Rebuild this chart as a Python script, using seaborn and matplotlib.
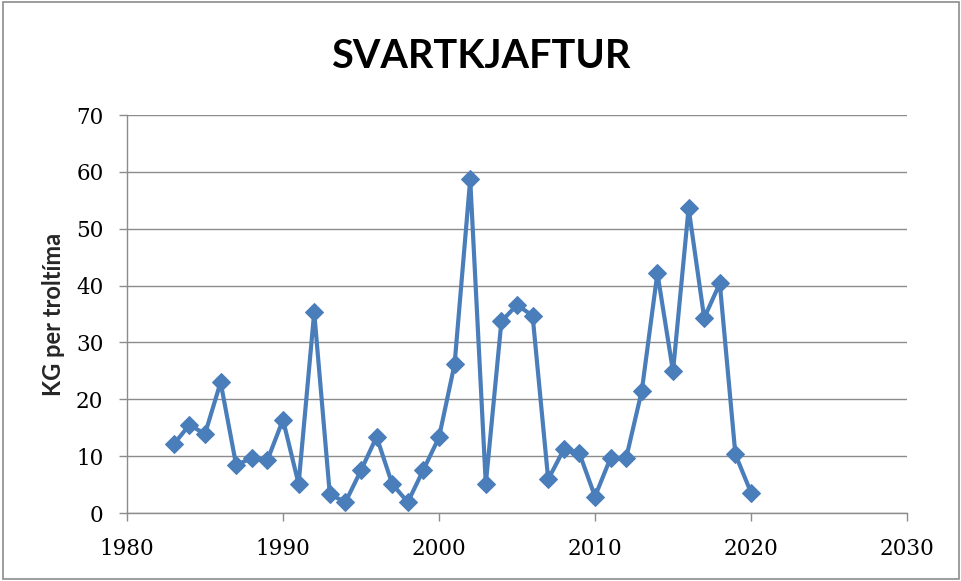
import matplotlib
matplotlib.use("Agg")
import matplotlib.pyplot as plt
import seaborn as sns
import pandas as pd
from matplotlib.patches import Rectangle

years = list(range(1983, 2021))
kg_per_hour = [12.1, 15.5, 13.9, 23.0, 8.4, 9.7, 9.3, 16.4, 5.1, 35.3,
               3.3, 1.9, 7.5, 13.4, 5.1, 1.9, 7.6, 13.3, 26.2, 58.7,
               5.1, 33.7, 36.6, 34.7, 5.9, 11.2, 10.5, 2.9, 9.7, 9.7,
               21.5, 42.2, 24.9, 53.6, 34.3, 40.4, 10.3, 3.6]
x_ticks = [1980, 1990, 2000, 2010, 2020, 2030]
y_ticks = [0, 10, 20, 30, 40, 50, 60, 70]
title = "SVARTKJAFTUR"
ylabel = "KG per troltíma"

df = pd.DataFrame({"year": years, "kg": kg_per_hour})

sns.set_style("white")
plt.rcParams["font.family"] = ["Lato", "DejaVu Sans"]

fig = plt.figure(figsize=(9.62, 5.81), dpi=100)
ax = fig.add_axes([127/962, 1 - 513/581, (907-127)/962, (513-115)/581])

color = "#4A7EBB"
sns.lineplot(data=df, x="year", y="kg", ax=ax, color=color, linewidth=3.0,
             marker="D", markersize=9, markeredgecolor=color, markerfacecolor=color)

ax.set_xlim(1980, 2030)
ax.set_ylim(0, 70)
ax.set_xticks(x_ticks)
ax.set_yticks(y_ticks)
ax.yaxis.grid(True, color="#8C8C8C", linewidth=1.0)
ax.xaxis.grid(False)
ax.set_axisbelow(True)
for s in ["top", "right"]:
    ax.spines[s].set_visible(False)
for s in ["left", "bottom"]:
    ax.spines[s].set_color("#8C8C8C")
    ax.spines[s].set_linewidth(1.0)
ax.tick_params(axis="both", which="major", direction="out", length=6, width=1.0,
               color="#8C8C8C", labelsize=15.5, labelcolor="black", left=True, bottom=True)
ax.tick_params(axis="x", pad=12)
ax.tick_params(axis="y", pad=11)
for lab in ax.get_xticklabels() + ax.get_yticklabels():
    lab.set_fontfamily(["DejaVu Serif"])
ax.set_xlabel("")
ax.set_ylabel(ylabel, fontsize=17, fontweight="bold", labelpad=10)
ax.yaxis.set_label_coords(-62/780, 0.5)

fig.text(481/962, 1 - 56/581, title, ha="center", va="center",
         fontsize=28.5, fontweight="bold", color="black")

fig.add_artist(Rectangle((0.003, 0.003), 0.994, 0.994, transform=fig.transFigure,
                         fill=False, edgecolor="#8C8C8C", linewidth=1.2))

fig.savefig("out.png", dpi=100, facecolor="white")
